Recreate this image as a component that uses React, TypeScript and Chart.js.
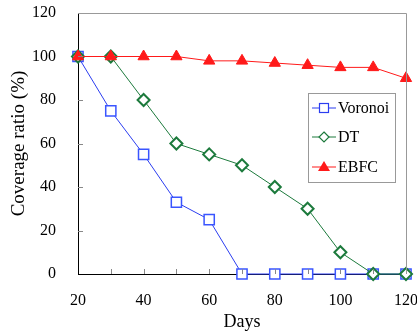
import React, { useEffect, useRef } from "react";
import { Chart, registerables } from "chart.js";
Chart.register(...registerables);

const days = [20, 30, 40, 50, 60, 70, 80, 90, 100, 110, 120];
const voronoi = [100, 75, 55, 33, 25, 0, 0, 0, 0, 0, 0];
const dt = [100, 100, 80, 60, 55, 50, 40, 30, 10, 0, 0];
const ebfc = [100, 100, 100, 100, 98, 98, 97, 96, 95, 95, 90];
const seriesNames = ["Voronoi", "DT", "EBFC"];
const xTicks = [20, 40, 60, 80, 100, 120];
const yTicks = [0, 20, 40, 60, 80, 100, 120];

const BLUE = "#2b3df0";
const GREEN = "#1c7a3c";
const RED = "#ff1a1a";
const FONT = "'Liberation Serif', 'Times New Roman', serif";

const overlay = {
  id: "overlay",
  afterDatasetsDraw(chart: any) {
    const { ctx, chartArea } = chart;
    const xs = chart.scales.x;
    const ys = chart.scales.y;
    ctx.save();
    ctx.strokeStyle = "#999";
    ctx.lineWidth = 1;
    ctx.beginPath();
    ctx.moveTo(chartArea.left, chartArea.top + 0.5);
    ctx.lineTo(chartArea.right + 0.5, chartArea.top + 0.5);
    ctx.lineTo(chartArea.right + 0.5, chartArea.bottom);
    ctx.stroke();
    ctx.strokeStyle = "#888";
    ctx.beginPath();
    for (let v = 30; v < 120; v += 10) {
      const x = Math.round(xs.getPixelForValue(v)) + 0.5;
      ctx.moveTo(x, chartArea.bottom);
      ctx.lineTo(x, chartArea.bottom - 5);
    }
    for (let v = 20; v < 120; v += 20) {
      const y = Math.round(ys.getPixelForValue(v)) + 0.5;
      ctx.moveTo(chartArea.left, y);
      ctx.lineTo(chartArea.left + 5, y);
    }
    ctx.stroke();
    ctx.restore();
  },
  afterDraw(chart: any) {
    const { ctx } = chart;
    ctx.save();
    const bx = 308.5, by = 93.5, bw = 87, bh = 89;
    ctx.fillStyle = "#fff";
    ctx.fillRect(bx, by, bw, bh);
    ctx.strokeStyle = "#999";
    ctx.lineWidth = 1;
    ctx.strokeRect(bx, by, bw, bh);
    const rows = [108, 137, 167];
    const colors = [BLUE, GREEN, RED];
    rows.forEach((y, i) => {
      ctx.strokeStyle = colors[i];
      ctx.lineWidth = 1;
      ctx.beginPath();
      ctx.moveTo(312, y);
      ctx.lineTo(336, y);
      ctx.stroke();
      ctx.lineWidth = 1.2;
      if (i === 0) {
        ctx.fillStyle = "#fff";
        ctx.fillRect(319.5, y - 4.5, 9, 9);
        ctx.strokeRect(319.5, y - 4.5, 9, 9);
      } else if (i === 1) {
        ctx.fillStyle = "#fff";
        ctx.beginPath();
        ctx.moveTo(324, y - 5);
        ctx.lineTo(329, y);
        ctx.lineTo(324, y + 5);
        ctx.lineTo(319, y);
        ctx.closePath();
        ctx.fill();
        ctx.stroke();
      } else {
        ctx.fillStyle = RED;
        ctx.beginPath();
        ctx.moveTo(324, y - 6);
        ctx.lineTo(330, y + 4);
        ctx.lineTo(318, y + 4);
        ctx.closePath();
        ctx.fill();
      }
      ctx.fillStyle = "#000";
      ctx.font = `16px ${FONT}`;
      ctx.textBaseline = "middle";
      ctx.textAlign = "left";
      ctx.fillText(seriesNames[i], 338, y + 1);
    });
    ctx.restore();
  },
};

export default function App() {
  const ref = useRef<HTMLCanvasElement>(null);
  useEffect(() => {
    document.body.style.margin = "0";
    const chart = new Chart(ref.current!, {
      type: "line",
      data: {
        datasets: [
          {
            label: seriesNames[0],
            data: days.map((d, i) => ({ x: d, y: voronoi[i] })),
            borderColor: BLUE,
            backgroundColor: "#fff",
            borderWidth: 1,
            pointStyle: "rect",
            pointRadius: 7.2,
            pointBorderWidth: 1.5,
            pointBorderColor: "#3a55ff",
            order: 2,
            clip: false,
          },
          {
            label: seriesNames[1],
            data: days.map((d, i) => ({ x: d, y: dt[i] })),
            borderColor: GREEN,
            backgroundColor: "#fff",
            borderWidth: 1,
            pointStyle: "rectRot",
            pointRadius: 6,
            pointBorderWidth: 2,
            pointBorderColor: GREEN,
            order: 1,
            clip: false,
          },
          {
            label: seriesNames[2],
            data: days.map((d, i) => ({ x: d, y: ebfc[i] })),
            borderColor: RED,
            backgroundColor: RED,
            borderWidth: 1,
            pointStyle: "triangle",
            pointRadius: 6.5,
            pointBorderWidth: 1,
            pointBorderColor: RED,
            order: 0,
            clip: false,
          },
        ] as any,
      },
      options: {
        animation: false,
        responsive: false,
        maintainAspectRatio: false,
        layout: { padding: { top: 13, right: 11, left: 0, bottom: 0 } },
        plugins: { legend: { display: false }, tooltip: { enabled: false } },
        scales: {
          x: {
            type: "linear",
            min: 20,
            max: 120,
            afterBuildTicks: (s: any) => {
              s.ticks = xTicks.map((v) => ({ value: v }));
            },
            afterFit: (s: any) => {
              s.height = 58;
              s.paddingLeft = 0;
              s.paddingRight = 0;
            },
            grid: { display: false },
            border: { display: true, color: "#000", width: 1 },
            ticks: {
              color: "#000",
              font: { family: FONT, size: 16 },
              padding: 9,
              maxRotation: 0,
            },
            title: {
              display: true,
              text: "Days",
              color: "#000",
              font: { family: FONT, size: 18, lineHeight: 1 },
              padding: { top: 0, bottom: 1 },
            },
          },
          y: {
            type: "linear",
            min: 0,
            max: 120,
            afterBuildTicks: (s: any) => {
              s.ticks = yTicks.map((v) => ({ value: v }));
            },
            afterFit: (s: any) => {
              s.width = 78;
              s.paddingTop = 0;
              s.paddingBottom = 0;
            },
            grid: { display: false },
            border: { display: true, color: "#000", width: 1 },
            ticks: {
              color: "#000",
              font: { family: FONT, size: 16 },
              padding: 14,
            },
            title: {
              display: true,
              text: "Coverage ratio (%)",
              color: "#000",
              font: { family: FONT, size: 19, lineHeight: 1 },
              padding: { top: 10, bottom: 0 },
            },
          },
        },
      },
      plugins: [overlay],
    });
    return () => chart.destroy();
  }, []);
  return (
    <div style={{ width: 417, height: 332, background: "#fff" }}>
      <canvas ref={ref} width={417} height={332} style={{ display: "block" }} />
    </div>
  );
}
